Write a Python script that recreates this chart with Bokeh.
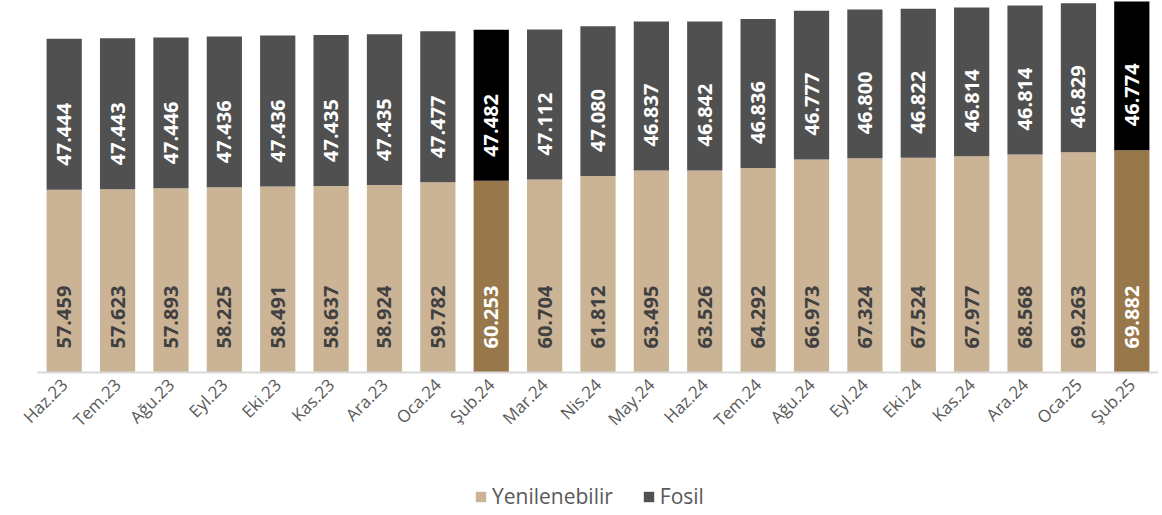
import math
from bokeh.plotting import figure
from bokeh.models import ColumnDataSource, Legend, LegendItem, Range1d, FixedTicker
from bokeh.core.properties import value
from bokeh.embed import file_html
from bokeh.resources import INLINE

months = ["Haz.23", "Tem.23", "Ağu.23", "Eyl.23", "Eki.23", "Kas.23", "Ara.23",
          "Oca.24", "Şub.24", "Mar.24", "Nis.24", "May.24", "Haz.24", "Tem.24",
          "Ağu.24", "Eyl.24", "Eki.24", "Kas.24", "Ara.24", "Oca.25", "Şub.25"]
yenilenebilir = [57.459, 57.623, 57.893, 58.225, 58.491, 58.637, 58.924, 59.782,
                 60.253, 60.704, 61.812, 63.495, 63.526, 64.292, 66.973, 67.324,
                 67.524, 67.977, 68.568, 69.263, 69.882]
fosil = [47.444, 47.443, 47.446, 47.436, 47.436, 47.435, 47.435, 47.477, 47.482,
         47.112, 47.080, 46.837, 46.842, 46.836, 46.777, 46.800, 46.822, 46.814,
         46.814, 46.829, 46.774]
highlight = ["Şub.24", "Şub.25"]

TAN, BROWN, GRAY, BLACK = "#CBB496", "#98784A", "#505050", "#000000"

def fmt(v):
    return f"{v:.3f}"

n = len(months)
idx = list(range(n))
hl = [m in highlight for m in months]
tops = [a + b for a, b in zip(yenilenebilir, fosil)]
src = ColumnDataSource(dict(
    i=idx, m=months, ren=yenilenebilir, fos=fosil, top=tops,
    zero=[0] * n,
    ren_c=[BROWN if h else TAN for h in hl],
    fos_c=[BLACK if h else GRAY for h in hl],
    ren_t=[fmt(v) for v in yenilenebilir],
    fos_t=[fmt(v) for v in fosil],
    ren_tc=["#FFFFFF" if h else "#404040" for h in hl],
))

# layout: frame covers the whole page; categories occupy 37..1158 px, value 0 at 372 px
FRAME_W, FRAME_H, BASE_PX, LEFT_PX = 1158, 510, 372, 37
cat_w = (FRAME_W - LEFT_PX) / n
x_min = -0.5 - LEFT_PX / cat_w
x_max = n - 0.5
y_max = max(tops) + 0.3
y_min = -(FRAME_H - BASE_PX) * y_max / BASE_PX

p = figure(x_range=Range1d(x_min, x_max), y_range=Range1d(y_min, y_max),
           frame_width=FRAME_W, frame_height=FRAME_H,
           output_backend="svg", toolbar_location=None,
           min_border_left=0, min_border_right=0, min_border_top=0, min_border_bottom=0)
p.outline_line_color = None
p.grid.visible = False
p.yaxis.visible = False

r1 = p.vbar(x="i", top="ren", bottom="zero", width=0.66, source=src,
            fill_color="ren_c", line_color=None)
r2 = p.vbar(x="i", top="top", bottom="ren", width=0.66, source=src,
            fill_color="fos_c", line_color=None)

# category axis baseline spanning the category area only
p.segment(x0=[-0.5], y0=[0], x1=[n - 0.5], y1=[0], line_color="#D9D9D9", line_width=2)

p.text(x="i", y="zero", text="ren_t", source=src, angle=math.pi / 2,
       text_align="left", text_baseline="middle", y_offset=-24,
       text_font=value("Open Sans"), text_font_style="bold", text_font_size="20px",
       text_color="ren_tc")
p.text(x="i", y="ren", text="fos_t", source=src, angle=math.pi / 2,
       text_align="left", text_baseline="middle", y_offset=-24,
       text_font=value("Open Sans"), text_font_style="bold", text_font_size="20px",
       text_color="#FFFFFF")

ax = p.xaxis[0]
ax.fixed_location = 0
ax.ticker = FixedTicker(ticks=idx)
ax.major_label_overrides = {i: m for i, m in zip(idx, months)}
ax.axis_line_color = None
ax.major_tick_line_color = None
ax.minor_tick_line_color = None
ax.major_tick_out = 0
ax.major_tick_in = 0
ax.major_label_orientation = math.pi / 4
ax.major_label_text_font = "Open Sans"
ax.major_label_text_font_size = "17px"
ax.major_label_text_color = "#595959"
ax.major_label_standoff = 9

legend = Legend(items=[LegendItem(label="Yenilenebilir", renderers=[r1], index=0),
                       LegendItem(label="Fosil", renderers=[r2], index=0)],
                orientation="horizontal", location=(474, 0),
                label_text_font="Open Sans", label_text_font_size="21px",
                label_text_color="#595959", glyph_width=13, glyph_height=13,
                spacing=29, border_line_color=None, background_fill_alpha=0,
                padding=0, margin=0, label_standoff=5)
p.add_layout(legend, "center")

open("out.html", "w").write(file_html(p, INLINE))
